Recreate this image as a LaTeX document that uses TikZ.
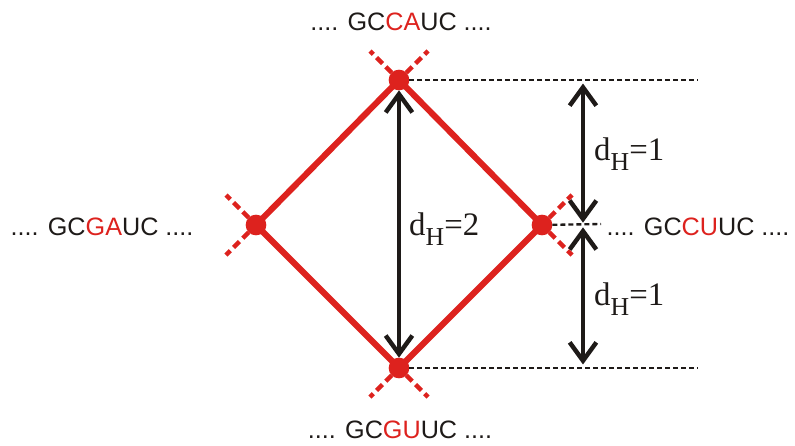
\documentclass[tikz,border=0pt]{standalone}
\usepackage{fontspec}
\setmainfont{Liberation Serif}
\setsansfont{Liberation Sans}
\usepackage{tikz}
\usetikzlibrary{arrows.meta, positioning}

\definecolor{rnared}{RGB}{221,34,30}
\definecolor{inkdark}{RGB}{30,26,24}

\newcommand{\seqfont}{\sffamily\fontsize{21.5}{24}\selectfont}
\newcommand{\dham}[1]{\fontsize{28}{32}\selectfont d\raisebox{-9pt}{\fontsize{22}{25}\selectfont H}=#1}

\begin{document}
\begin{tikzpicture}[
    x=0.03cm, y=-0.03cm,
    vertex/.style={circle, fill=rnared, inner sep=0pt, outer sep=0pt, minimum size=0.62cm},
    seqlabel/.style={anchor=base, inner sep=0pt, text=inkdark, font=\seqfont},
    edge/.style={draw=rnared, line width=5.2pt},
    stub/.style={draw=rnared, line width=3.8pt, dash pattern=on 0.25cm off 0.14cm},
    guide/.style={draw=inkdark, line width=2pt, dash pattern=on 0.15cm off 0.09cm},
    dist/.style={draw=inkdark, line width=3.8pt, {Straight Barb[length=0.55cm,width=0.8cm]}-{Straight Barb[length=0.55cm,width=0.8cm]}},
    dlabel/.style={anchor=base west, inner sep=0pt, text=inkdark}
]
    \useasboundingbox (0,0) rectangle (795,445);

    % the four sequences
    \node[vertex] (ca) at (399,80) {};
    \node[vertex] (ga) at (256,225) {};
    \node[vertex] (cu) at (542,225) {};
    \node[vertex] (gu) at (399,368) {};

    \node[seqlabel] (tca) at (401,30) {.... GC\textcolor{rnared}{CA}UC ....};
    \node[seqlabel] (tga) at (102,235) {.... GC\textcolor{rnared}{GA}UC ....};
    \node[seqlabel] (tcu) at (698,235) {.... GC\textcolor{rnared}{CU}UC ....};
    \node[seqlabel] (tgu) at (400,438) {.... GC\textcolor{rnared}{GU}UC ....};

    % diamond
    \draw[edge] (ca.center) -- (ga.center) -- (gu.center) -- (cu.center) -- cycle;

    % broken continuations
    \draw[stub] (ca) -- ++(-29,-29);
    \draw[stub] (ca) -- ++(29,-29);
    \draw[stub] (ga) -- ++(-30,-30);
    \draw[stub] (ga) -- ++(-30,30);
    \draw[stub] (cu) -- ++(30,-30);
    \draw[stub] (cu) -- ++(30,30);
    \draw[stub] (gu) -- ++(-29,29);
    \draw[stub] (gu) -- ++(29,29);

    % guide lines
    \coordinate (topend) at (698,80);
    \coordinate (midend) at (601,224);
    \coordinate (botend) at (698,368);
    \draw[guide] (ca) -- (topend);
    \draw[guide] (cu) -- (midend);
    \draw[guide] (gu) -- (botend);

    % distances
    \coordinate (tr) at (583,80);
    \coordinate (mr) at (583,225);
    \coordinate (br) at (583,368);
    \draw[dist] (ca) -- (gu);
    \draw[dist, shorten <=3pt, shorten >=2pt] (tr) -- (mr);
    \draw[dist, shorten <=2pt, shorten >=3pt] (mr) -- (br);

    \node[dlabel] (d2) at (409,235) {\dham{2}};
    \node[dlabel] (d1a) at (594,160) {\dham{1}};
    \node[dlabel] (d1b) at (594,305) {\dham{1}};
\end{tikzpicture}
\end{document}
